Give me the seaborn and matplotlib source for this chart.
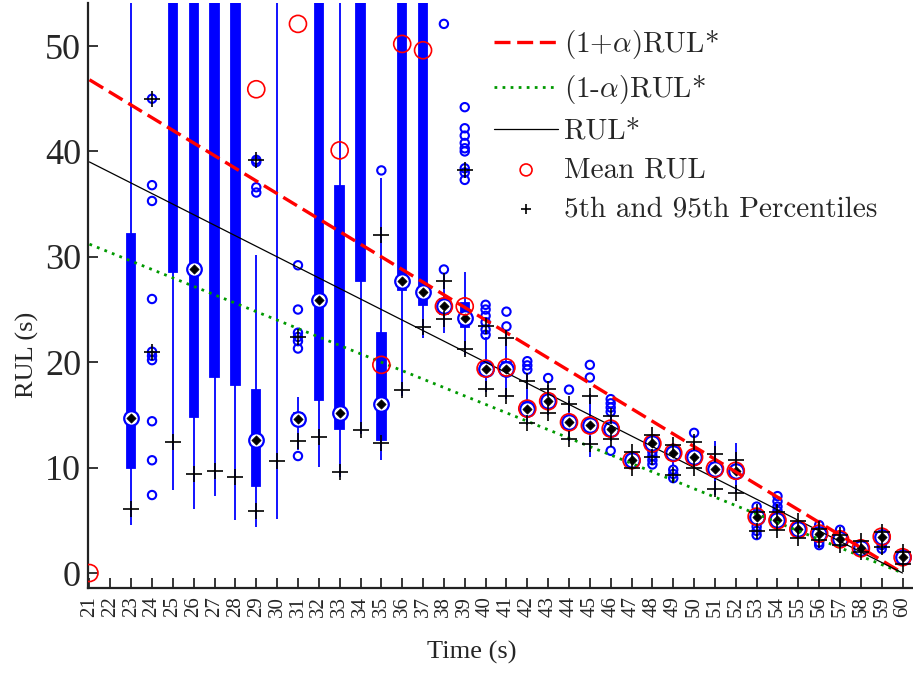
import numpy as np
import pandas as pd
import matplotlib
matplotlib.use("Agg")
import matplotlib.pyplot as plt
import seaborn as sns

nan = np.nan

# prediction times (categories on the x axis)
times = [21, 22, 23, 24, 25, 26, 27, 28, 29, 30, 31, 32, 33, 34, 35, 36, 37, 38, 39, 40,
         41, 42, 43, 44, 45, 46, 47, 48, 49, 50, 51, 52, 53, 54, 55, 56, 57, 58, 59, 60]

# box summaries (values above 54 are off the top of the axes)
box_lo = [nan, nan, 4.6, nan, 7.9, 6.1, 7.3, 5.0, 4.4, 5.1, 11.7, 10.1, 9.15, 13.2, 10.7, 16.75, 22.3, 22.8, 20.7, 17.2,
          16.5, 14.0, 15.0, 12.5, 11.05, 12.5, 9.9, 11.8, 10.2, 10.0, 7.4, 7.6, 4.7, 4.2, 3.3, 3.1, 2.7, 1.9, 2.9, 0.9]
box_q1 = [nan, nan, 10.0, nan, 28.6, 14.85, 18.6, 17.8, 8.3, 56, 14.1, 16.4, 13.7, 27.7, 12.6, 26.9, 25.45, 24.6, 23.3, 18.8,
          18.9, 15.2, 15.9, 13.9, 13.6, 13.3, 10.4, 12.1, 11.1, 10.6, 9.4, 9.2, 5.1, 4.8, 3.9, 3.5, 3.0, 2.2, 3.3, 1.3]
box_med = [nan, nan, 14.75, nan, 58, 28.8, 57, 57, 12.6, 58, 14.6, 25.9, 15.2, 58, 16.05, 27.7, 26.7, 25.3, 24.2, 19.4,
           19.4, 15.6, 16.3, 14.3, 14.0, 13.7, 10.7, 12.3, 11.4, 11.0, 9.9, 9.7, 5.35, 5.0, 4.15, 3.75, 3.2, 2.35, 3.45, 1.5]
box_q3 = [nan, nan, 32.2, nan, 62, 62, 62, 62, 17.4, 62, 15.2, 62, 36.7, 62, 22.8, 62, 62, 26.0, 25.6, 20.0,
          20.0, 16.2, 16.7, 14.8, 14.6, 14.2, 11.1, 12.6, 11.8, 11.5, 10.4, 10.2, 5.6, 5.3, 4.4, 4.0, 3.4, 2.5, 3.7, 1.7]
box_hi = [nan, nan, 66, nan, 68, 68, 68, 68, 30.2, 68, 16.7, 68, 68, 68, 37.5, 68, 68, 28.3, 28.6, 22.4,
          23.0, 18.8, 17.8, 16.3, 17.0, 15.0, 11.6, 13.1, 12.3, 12.4, 12.5, 12.3, 5.9, 5.6, 4.9, 4.3, 3.7, 2.9, 4.1, 2.1]

mean_rul = [0.0, nan, nan, nan, nan, nan, nan, nan, 45.9, nan, 52.1, nan, 40.1, nan, 19.75, 50.2, 49.6, 25.3, 25.3, 19.4,
            19.5, 15.6, 16.3, 14.3, 14.0, 13.7, 10.7, 12.3, 11.4, 11.0, 9.9, 9.7, 5.35, 5.0, 4.15, 3.75, 3.2, 2.35, 3.45, 1.5]
p5 = [nan, nan, 6.05, 21.0, 12.4, 9.4, 9.7, 9.15, 5.9, 10.6, 12.5, 12.9, 9.6, 13.6, 12.3, 17.4, 23.3, 24.1, 21.3, 17.5,
      16.8, 14.2, 15.2, 12.7, 12.2, 12.7, 10.0, 11.0, 9.3, 10.0, 8.0, 7.6, 4.0, 4.1, 3.3, 3.1, 2.65, 2.0, 2.45, 0.9]
p95 = [nan, nan, nan, 45.0, nan, nan, nan, nan, 39.2, nan, 22.4, nan, nan, nan, 32.1, nan, nan, 27.7, 38.2, 23.4,
       22.3, 18.2, 17.5, 16.05, 16.8, 14.9, 11.5, 13.1, 12.1, 12.4, 11.3, 10.7, 5.8, 5.8, 4.9, 4.2, 3.6, 3.0, 3.9, 2.0]

# outliers (time, RUL)
out_t = [24, 24, 24, 24, 24, 24, 24, 24, 24, 24,
         29, 29, 29, 29,
         31, 31, 31, 31, 31, 31, 31,
         35, 38, 38,
         39, 39, 39, 39, 39, 39, 39, 39, 39,
         40, 40, 40, 40, 40, 40,
         41, 41, 42, 42, 42, 43, 44, 45, 45,
         46, 46, 46, 46, 46,
         48, 48, 48, 48, 49, 49, 49, 50,
         53, 53, 53, 53, 54, 54, 54, 54,
         56, 56, 56, 57, 59, 59]
out_v = [45.0, 36.8, 35.3, 26.0, 21.0, 20.6, 20.2, 14.4, 10.7, 7.4,
         39.2, 39.0, 36.6, 36.1,
         29.2, 25.0, 22.8, 22.4, 22.0, 21.3, 11.1,
         38.2, 52.1, 28.8,
         44.2, 42.2, 41.5, 40.8, 40.3, 40.0, 38.4, 38.0, 37.3,
         25.45, 25.0, 24.4, 23.8, 23.1, 22.6,
         24.8, 23.4, 20.1, 19.7, 19.3, 18.5, 17.4, 19.75, 18.55,
         16.5, 16.1, 15.7, 15.3, 11.6,
         11.5, 11.1, 10.7, 10.3, 9.8, 9.4, 9.0, 13.3,
         6.3, 4.4, 4.0, 3.6, 5.9, 6.3, 6.8, 7.3,
         4.55, 2.9, 2.65, 4.1, 2.65, 2.3]

# true RUL line and accuracy cone
line_t = [21, 60]
rul_true = [39, 0]
alpha = 0.2

sns.set_theme(style="white")
plt.rcParams["font.family"] = ["Liberation Serif", "DejaVu Serif"]
plt.rcParams["mathtext.fontset"] = "cm"

fig = plt.figure(figsize=(9.13, 6.73), dpi=100)
ax = fig.add_axes([0.0964, 0.1263, 0.9036, 0.8692])

# boxes: five summary values per time, quartiles fall exactly on them
bt, bv = [], []
for i, t in enumerate(times):
    if np.isnan(box_med[i]):
        continue
    for v in (box_lo[i], box_q1[i], box_med[i], box_q3[i], box_hi[i]):
        bt.append(t)
        bv.append(v)
boxes = pd.DataFrame({"Time": bt, "RUL": bv})
sns.boxplot(data=boxes, x="Time", y="RUL", native_scale=True, orient="x",
            whis=(0, 100), width=0.4, color="blue", linecolor="blue", saturation=1,
            showcaps=False, showfliers=False, linewidth=1.3, ax=ax)

# outliers
sns.scatterplot(x=out_t, y=out_v, marker="o", s=36, facecolor="none", edgecolor="blue",
                linewidth=1.5, zorder=3, ax=ax)

# median markers
med_t = [t for t, m in zip(times, box_med) if not np.isnan(m)]
med_v = [m for m in box_med if not np.isnan(m)]
sns.scatterplot(x=med_t, y=med_v, marker="o", s=110, facecolor="white", edgecolor="blue",
                linewidth=1.6, zorder=4, ax=ax)
sns.scatterplot(x=med_t, y=med_v, marker="D", s=22, color="black", edgecolor="black",
                linewidth=0.5, zorder=5, ax=ax)

# RUL* and the alpha cone
upper = [(1 + alpha) * r for r in rul_true]
lower = [(1 - alpha) * r for r in rul_true]
sns.lineplot(x=line_t, y=upper, color="red", linewidth=2.4, linestyle=(0, (4.8, 2.0)),
             label=r"(1+$\alpha$)RUL*", zorder=6, ax=ax)
sns.lineplot(x=line_t, y=lower, color="#009900", linewidth=2.0, linestyle=(0, (1.0, 1.9)),
             label=r"(1-$\alpha$)RUL*", zorder=6, ax=ax)
sns.lineplot(x=line_t, y=rul_true, color="black", linewidth=0.9,
             label="RUL*", zorder=6, ax=ax)

# mean and percentiles
sns.scatterplot(x=times, y=mean_rul, marker="o", s=150, facecolor="none", edgecolor="red",
                linewidth=1.2, zorder=7, label="Mean RUL", ax=ax)
sns.scatterplot(x=times + times, y=p5 + p95, marker="+", s=120, color="black",
                linewidth=1.2, zorder=8, label="5th and 95th Percentiles", ax=ax)

ax.set_xlim(20.93, 60.5)
ax.set_ylim(-1.42, 54.08)
ax.set_xticks(times)
ax.set_xticklabels([str(t) for t in times], rotation=90, fontsize=15)
ax.set_yticks([0, 10, 20, 30, 40, 50])
ax.tick_params(axis="y", labelsize=26, direction="in", length=7, width=1.3, pad=5, left=True)
ax.tick_params(axis="x", direction="in", length=7, width=1.3, pad=6, bottom=True)
ax.set_xlabel("Time (s)", fontsize=19)
ax.set_ylabel("RUL (s)", fontsize=19)
ax.xaxis.set_label_coords(0.465, -0.09)
ax.yaxis.set_label_coords(-0.06, 0.398)
sns.despine(ax=ax)
for s in ("left", "bottom"):
    ax.spines[s].set_color("#222222")
    ax.spines[s].set_linewidth(1.6)

handles, labels = ax.get_legend_handles_labels()
leg = ax.legend(handles, labels, loc="upper left", bbox_to_anchor=(494 / 913, 1 - 28 / 673),
                bbox_transform=fig.transFigure, frameon=False, borderpad=0, borderaxespad=0,
                handlelength=2.2, handletextpad=0.2, labelspacing=0.42, markerscale=0.7,
                prop={"family": "cmr10", "size": 21})

fig.savefig("out.png", dpi=100)
